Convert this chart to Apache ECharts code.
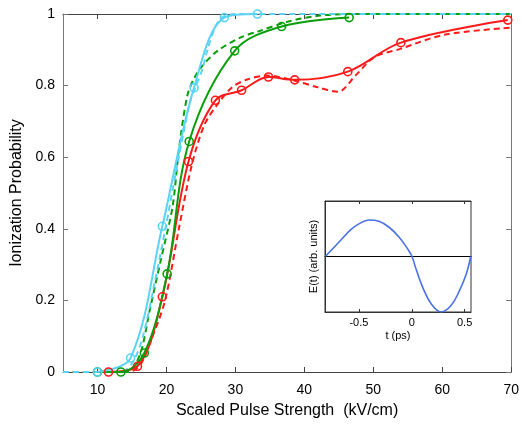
<!DOCTYPE html>
<html>
<head>
<meta charset="utf-8">
<script src="https://cdn.jsdelivr.net/npm/echarts@6/dist/echarts.min.js"></script>
<style>
  html, body { margin: 0; padding: 0; background: #fff; }
  #chart { width: 522px; height: 427px; }
</style>
</head>
<body>
<div id="chart"></div>
<script>
// Ionization probability vs. scaled pulse strength (kV/cm)
// Solid lines with open circles: computed points; dashed lines: comparison curves.
const redSolid = [[11.6,0],[15.8,0.016],[19.4,0.21],[23.2,0.588],[27.1,0.759],[30.9,0.787],[34.8,0.824],[38.6,0.816],[46.3,0.839],[54.0,0.92],[69.5,0.983]];
const greenSolid = [[10,0],[13.4,0],[16.8,0.053],[20.1,0.274],[23.3,0.644],[29.9,0.897],[36.7,0.965],[46.5,0.99]];
const cyanSolid = [[10,0],[14.8,0.039],[19.4,0.407],[24.0,0.794],[28.4,0.99],[33.2,1.0]];

const redDashed = [[5,0],[14.5,0],[16.2,0.02],[17.8,0.09],[19.8,0.2],[21.8,0.4],[23.7,0.58],[25.5,0.69],[27.3,0.745],[29.5,0.795],[31.7,0.817],[34.6,0.828],[38.2,0.816],[42,0.795],[44.9,0.783],[47.5,0.83],[50.2,0.88],[53.8,0.902],[60.3,0.942],[70,0.962]];
const greenDashed = [[5,0],[14.5,0],[15.5,0.02],[16.5,0.07],[17.5,0.165],[19.2,0.314],[20.9,0.463],[21.8,0.62],[23.0,0.77],[24.0,0.82],[25.2,0.855],[27.4,0.897],[30.7,0.934],[33.4,0.952],[37.7,0.979],[42,0.995],[46.6,1.0],[70,1.0]];
const cyanDashed = [[5,0],[13.5,0],[15.2,0.03],[16.6,0.1],[18.3,0.25],[19.9,0.405],[21.3,0.55],[22.6,0.68],[23.5,0.76],[24.5,0.81],[25.2,0.845],[25.9,0.897],[27,0.96],[28,0.99],[30,1.0],[70,1.0]];

const xTicks = [10,20,30,40,50,60,70];
const yTicks = [0,0.2,0.4,0.6,0.8,1];

// Inset: pulse field E(t) in arbitrary units vs t (ps)
const pulseT = [-0.817,-0.674,-0.579,-0.5,-0.405,-0.31,-0.214,-0.119,-0.039,0.002,0.04,0.103,0.183,0.278,0.373,0.452,0.516,0.557];
const pulseE = [0,0.287,0.479,0.587,0.659,0.635,0.527,0.347,0.138,0,-0.222,-0.551,-0.85,-1,-0.88,-0.61,-0.31,0];
const insetTicks = [-0.5,0,0.5];

const RED = '#ff1a1a', GREEN = '#0a9e0a', CYAN = '#5bd3f5', BLUE = '#4a72e3';
const FONT = '"Liberation Sans", Arial, Helvetica, sans-serif';

function solid(data, color) {
  return {
    type: 'line', data, xAxisIndex: 0, yAxisIndex: 0, smooth: 0.35,
    symbol: 'circle', symbolSize: 8, showSymbol: true, z: 4,
    lineStyle: { color, width: 2 },
    itemStyle: { color: 'rgba(0,0,0,0)', borderColor: color, borderWidth: 1.6 }
  };
}
function dashed(data, color) {
  return {
    type: 'line', data, xAxisIndex: 0, yAxisIndex: 0, smooth: 0.3,
    showSymbol: false, z: 3,
    lineStyle: { color, width: 2, type: [6, 4] }
  };
}

const chart = echarts.init(document.getElementById('chart'), null, { renderer: 'canvas' });
chart.setOption({
  animation: false,
  backgroundColor: '#fff',
  textStyle: { fontFamily: FONT, color: '#000' },
  grid: [
    { left: 63, right: 9, top: 14, bottom: 55 },
    { left: 325, top: 201, width: 146, height: 111, show: true, backgroundColor: '#fff', borderColor: '#333', borderWidth: 1, z: 10 }
  ],
  xAxis: [
    {
      gridIndex: 0, type: 'value', min: 5, max: 70,
      name: 'Scaled Pulse Strength  (kV/cm)', nameLocation: 'middle', nameGap: 31,
      nameTextStyle: { fontSize: 16, fontFamily: FONT, color: '#000' },
      axisLine: { onZero: false, lineStyle: { color: '#444', width: 1 } },
      axisTick: { inside: true, length: 5, customValues: xTicks, lineStyle: { color: '#444' } },
      axisLabel: { customValues: xTicks, fontSize: 14, color: '#000', margin: 11, fontFamily: FONT },
      splitLine: { show: false }
    },
    {
      gridIndex: 0, type: 'value', min: 5, max: 70, position: 'top',
      axisLine: { onZero: false, lineStyle: { color: '#444', width: 1 } },
      axisTick: { inside: true, length: 5, customValues: xTicks, lineStyle: { color: '#444' } },
      axisLabel: { show: false }, splitLine: { show: false }
    },
    {
      gridIndex: 1, type: 'value', min: -0.82, max: 0.56, position: 'bottom',
      name: 't (ps)', nameLocation: 'middle', nameGap: 18,
      nameTextStyle: { fontSize: 11, fontFamily: FONT, color: '#000' },
      axisLine: { onZero: false, lineStyle: { color: '#333', width: 1 } },
      axisTick: { inside: true, length: 3, customValues: insetTicks, lineStyle: { color: '#333' } },
      axisLabel: { customValues: insetTicks, fontSize: 11, color: '#000', margin: 5, fontFamily: FONT },
      splitLine: { show: false }, z: 11
    },
    {
      gridIndex: 1, type: 'value', min: -0.82, max: 0.56, position: 'top',
      axisLine: { onZero: false, lineStyle: { color: '#333', width: 1 } },
      axisTick: { inside: true, length: 3, customValues: insetTicks, lineStyle: { color: '#333' } },
      axisLabel: { show: false }, splitLine: { show: false }, z: 11
    },
    {
      // zero reference line of the inset field
      gridIndex: 1, type: 'value', min: -0.82, max: 0.56,
      axisLine: { show: true, onZero: true, lineStyle: { color: '#000', width: 1.2 } },
      axisTick: { show: false }, axisLabel: { show: false }, splitLine: { show: false }, z: 11
    }
  ],
  yAxis: [
    {
      gridIndex: 0, type: 'value', min: 0, max: 1, interval: 0.2,
      name: 'Ionization Probability', nameLocation: 'middle', nameGap: 38,
      nameTextStyle: { fontSize: 16, fontFamily: FONT, color: '#000' },
      axisLine: { show: true, onZero: false, lineStyle: { color: '#777', width: 1 } },
      axisTick: { show: true, inside: true, length: 5, lineStyle: { color: '#777' } },
      axisLabel: { fontSize: 14, color: '#000', margin: 8, fontFamily: FONT },
      splitLine: { show: false }
    },
    {
      gridIndex: 0, type: 'value', min: 0, max: 1, interval: 0.2, position: 'right',
      axisLine: { show: true, onZero: false, lineStyle: { color: '#777', width: 1 } },
      axisTick: { show: true, inside: true, length: 5, lineStyle: { color: '#777' } },
      axisLabel: { show: false }, splitLine: { show: false }
    },
    {
      gridIndex: 1, type: 'value', min: -1, max: 1, position: 'left',
      name: 'E(t) (arb. units)', nameLocation: 'middle', nameGap: 6,
      nameTextStyle: { fontSize: 11, fontFamily: FONT, color: '#000' },
      axisLine: { show: true, onZero: false, lineStyle: { color: '#333' } },
      axisTick: { show: false }, axisLabel: { show: false }, splitLine: { show: false }, z: 11
    }
  ],
  series: [
    dashed(redDashed, RED),
    dashed(greenDashed, GREEN),
    dashed(cyanDashed, CYAN),
    solid(redSolid, RED),
    solid(greenSolid, GREEN),
    solid(cyanSolid, CYAN),
    {
      type: 'line', xAxisIndex: 2, yAxisIndex: 2, z: 12,
      data: pulseT.map((t, i) => [t, pulseE[i]]),
      smooth: 0.4, showSymbol: false,
      lineStyle: { color: BLUE, width: 1.6 }
    }
  ]
});
</script>
</body>
</html>
